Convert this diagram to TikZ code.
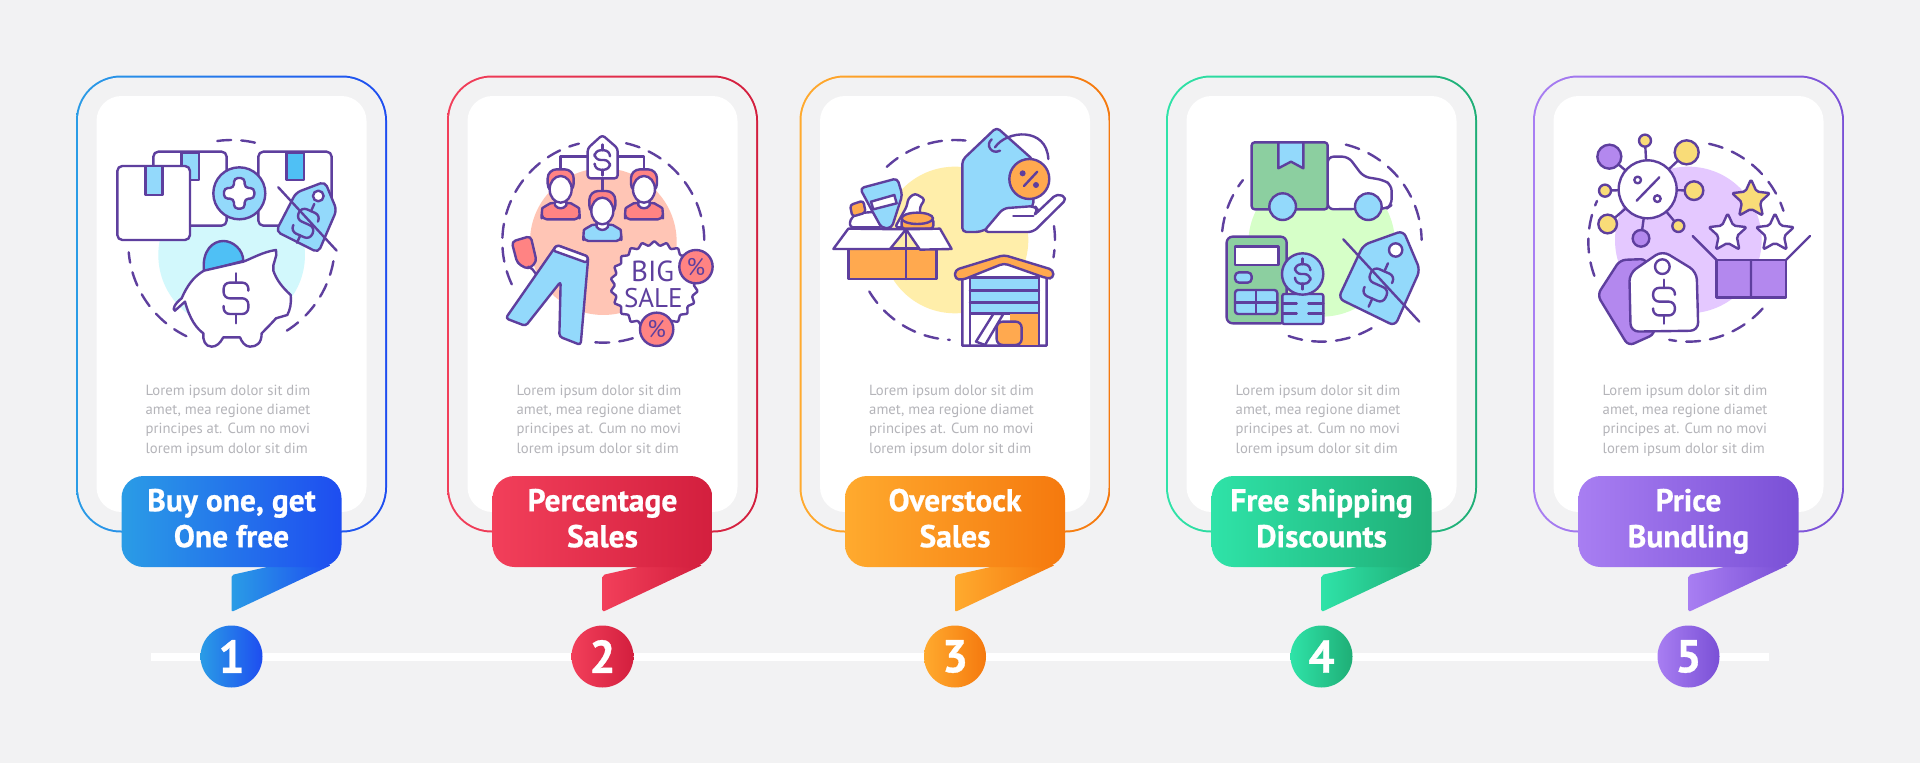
\documentclass[tikz,border=0pt]{standalone}
\usepackage{fontspec}
\setmainfont{PT Sans}
\newfontfamily\titlefont{PT Sans}[BoldFeatures={FakeBold=0.7}]
\usetikzlibrary{shapes.geometric}
\definecolor{pagegrey}{HTML}{F2F2F3}
\definecolor{inkpurple}{HTML}{5E3F9E}
\definecolor{bodygrey}{HTML}{B4B4B9}
\definecolor{blueL}{HTML}{2A9CE6}\definecolor{blueR}{HTML}{1E4DF0}
\definecolor{redL}{HTML}{F23F5A}\definecolor{redR}{HTML}{D31F3E}
\definecolor{orangeL}{HTML}{FFAA2E}\definecolor{orangeR}{HTML}{F5790E}
\definecolor{greenL}{HTML}{2FE3A8}\definecolor{greenR}{HTML}{1FAE76}
\definecolor{violetL}{HTML}{A87EF2}\definecolor{violetR}{HTML}{7A50D6}
\definecolor{skyfill}{HTML}{93D9FB}
\definecolor{skydeep}{HTML}{4FC0F5}
\definecolor{pinkfill}{HTML}{FF8383}
\definecolor{amberfill}{HTML}{FFA94F}
\definecolor{mintfill}{HTML}{8CCFA0}
\definecolor{lilacfill}{HTML}{B388EE}
\definecolor{yellowfill}{HTML}{F9DC78}
\definecolor{blobcyan}{HTML}{D2F8FC}
\definecolor{blobsalmon}{HTML}{FFC5B5}
\definecolor{blobyellow}{HTML}{FFEEAA}
\definecolor{blobgreen}{HTML}{D6FFC8}
\definecolor{bloblilac}{HTML}{E4C8FF}
\tikzset{ink/.style = {draw=inkpurple, line width=2.4pt, line join=round, line cap=round},
         dashring/.style = {ink, dash pattern=on 14pt off 10pt},
         titletext/.style = {text=white, align=center, inner sep=0pt,
                             font=\titlefont\fontsize{31.5}{36}\selectfont\bfseries},
         bodytext/.style = {text=bodygrey, align=left, inner sep=0pt,
                            font=\fontsize{14.7}{19.3}\selectfont},
         numtext/.style = {text=white, inner sep=0pt, font=\titlefont\fontsize{46}{46}\selectfont\bfseries},
         icontext/.style = {text=inkpurple, inner sep=0pt},
         pics/dollar/.style = {code={
           \draw [ink, rounded corners=6pt] (37, -23) -- (37, -47) -- (-37, -47) -- (-37, 0)
             -- (37, 0) -- (37, 47) -- (-37, 47) -- (-37, 23);
           \draw [ink] (0, -75) -- (0, -47) (0, 47) -- (0, 75);}},
         pics/person/.style 2 args = {code={
           \draw [ink, fill=#1, rounded corners=9pt] (-39, -80) -- (-39, -150) -- (39, -150) -- (39, -80) -- cycle;
           \draw [ink, fill=#2, rounded corners=5pt] (-57, 0) -- (-57, -18) .. controls (-55, -35) and (-30, -48) .. (-17, -50)
             -- (17, -50) .. controls (30, -48) and (55, -35) .. (57, -18) -- (57, 0) -- cycle;
           \draw [ink, fill=white] (-17, -60) -- (-17, -42) .. controls (-8, -30) and (8, -30) .. (17, -42) -- (17, -60);
           \draw [ink, fill=white] (0, -90) ellipse [x radius=33, y radius=40];}}}
\newcommand{\dashring}[5]{\draw [dashring] (#1, #2) ++(#4:#3) arc [start angle=#4, end angle=#5, radius=#3];}
\begin{document}
\begin{tikzpicture}[x=1pt, y=-1pt]
  \fill [pagegrey] (0, 0) rectangle (1920, 763);
  \useasboundingbox (0, 0) rectangle (1920, 763);
  % cards
  \foreach \cx/\lcol/\rcol in {231.5/blueL/blueR, 602.5/redL/redR, 955/orangeL/orangeR,
                               1321.5/greenL/greenR, 1688.5/violetL/violetR} {
    \path [left color=\lcol, right color=\rcol, rounded corners=45pt] (\cx-155.5, 75.5) rectangle (\cx+155.5, 532.5);
    \fill [pagegrey, rounded corners=43pt] (\cx-153.5, 77.5) rectangle (\cx+153.5, 530.5);
    \fill [white, rounded corners=25pt] (\cx-135, 96) rectangle (\cx+135, 512);
  }
  % timeline
  \coordinate (lineStart) at (151, 656.5);
  \coordinate (lineEnd) at (1769, 656.5);
  \draw [white, line width=8pt] (lineStart) -- (lineEnd);
  % labels, tails and numbers
  \foreach \i/\cx/\lcol/\rcol/\ttlA/\ttlB in {1/231.5/blueL/blueR/{Buy one, get}/{One free},
                                              2/602.5/redL/redR/{Percentage}/{Sales},
                                              3/955/orangeL/orangeR/{Overstock}/{Sales},
                                              4/1321.5/greenL/greenR/{Free shipping}/{Discounts},
                                              5/1688.5/violetL/violetR/{Price}/{Bundling}} {
    \node [bodytext, anchor=north west] (body\i) at (\cx-86, 384.5)
      {Lorem ipsum dolor sit dim\\amet, mea regione diamet\\principes at. Cum no movi\\lorem ipsum dolor sit dim};
    \path [left color=\lcol, right color=\rcol, rounded corners=2pt]
      (\cx+40, 566) -- (\cx, 575) -- (\cx, 612) -- (\cx+100, 565) -- cycle;
    \path [left color=\lcol, right color=\rcol, rounded corners=22pt] (\cx-110, 476) rectangle (\cx+110, 567);
    \node [titletext] (title\i) at (\cx, 522) {\strut\ttlA\\\strut\ttlB};
    \node [circle, minimum size=62pt, inner sep=0pt, left color=\lcol, right color=\rcol] (disc\i) at (\cx, 656.5) {};
    \node [numtext] (num\i) at (disc\i) {\i};
  }
  % icon 1
  \begin{scope}[shift={(60, 60)}, x=0.3333pt, y=-0.3333pt]
    \fill [blobcyan] (515, 585) circle (220);
    \dashring{515}{550}{310}{-98}{-76}
    \dashring{515}{550}{310}{116}{175}
    \dashring{515}{550}{310}{10}{59}
    \draw [ink, fill=white, rounded corners=5pt] (280, 275) rectangle (500, 497);
    \draw [ink, fill=skyfill] (365, 278) rectangle (417, 360);
    \draw [ink, fill=white, rounded corners=5pt] (595, 275) rectangle (815, 497);
    \draw [ink, fill=skydeep] (680, 278) rectangle (732, 360);
    \draw [ink, fill=white, rounded corners=5pt] (172, 318) rectangle (390, 540);
    \draw [ink, fill=skyfill] (257, 318) rectangle (307, 405);
    \draw [ink, fill=skyfill] (538, 400) circle (78);
    \draw [ink, fill=white, rounded corners=4pt] (522, 354) -- (554, 354) -- (554, 384) -- (583, 384) -- (583, 416) -- (554, 416)
      -- (554, 446) -- (522, 446) -- (522, 416) -- (492, 416) -- (492, 384) -- (522, 384) -- cycle;
    \draw [ink, fill=skyfill, rounded corners=5pt] (648, 514) -- (708, 398) -- (795, 365) -- (830, 450) -- (775, 578) -- cycle;
    \draw [ink, fill=white] (775, 408) circle (16);
    \pic [rotate=-24, scale=.85] at (737, 490) {dollar};
    \draw [ink] (655, 382) -- (830, 572);
    \draw [ink, fill=skydeep] (432, 634) .. controls (425, 570) and (460, 543) .. (490, 543)
      .. controls (520, 543) and (550, 570) .. (550, 603) -- cycle;
    \draw [ink, fill=white] (432, 632) -- (550, 605) .. controls (570, 598) and (610, 575) .. (648, 570)
      .. controls (655, 590) and (635, 610) .. (640, 632) .. controls (650, 660) and (665, 680) .. (692, 705)
      .. controls (695, 730) and (690, 750) .. (682, 765) -- (648, 775) .. controls (635, 790) and (615, 810) .. (605, 820)
      .. controls (605, 850) and (590, 860) .. (570, 860) .. controls (555, 860) and (545, 845) .. (540, 832) -- (490, 832)
      .. controls (480, 850) and (470, 860) .. (455, 860) .. controls (435, 860) and (428, 840) .. (430, 820)
      .. controls (410, 805) and (390, 780) .. (375, 725) -- (345, 752) .. controls (335, 750) and (345, 730) .. (365, 715)
      .. controls (380, 680) and (400, 650) .. (432, 632) -- cycle;
    \pic at (528, 715) {dollar};
  \end{scope}
  % icon 2
  \begin{scope}[shift={(440, 110)}, x=0.3333pt, y=-0.3333pt]
    \fill [blobsalmon] (490, 395) circle (220);
    \dashring{490}{395}{303}{155}{256}
    \dashring{490}{395}{303}{-77}{-1}
    \dashring{490}{395}{303}{73}{95}
    \draw [ink] (443, 140) -- (362, 140) -- (362, 185) (533, 140) -- (612, 140) -- (612, 185) (487, 205) -- (487, 250);
    \draw [ink, fill=white, rounded corners=3pt] (443, 205) -- (443, 115) -- (487, 75) -- (533, 115) -- (533, 205) -- cycle;
    \pic [scale=.62] at (487, 150) {dollar};
    \pic at (362, 328) {person={pinkfill}{pinkfill}};
    \pic at (612, 328) {person={pinkfill}{pinkfill}};
    \pic at (487, 393) {person={pinkfill}{skyfill}};
    \draw [ink, fill=pinkfill, rounded corners=4pt] (215, 395) -- (272, 378) -- (290, 455) -- (265, 478) -- (232, 460) -- cycle;
    \draw [ink] (265, 470) .. controls (285, 480) and (295, 495) .. (287, 525);
    \draw [ink, fill=skyfill, rounded corners=3pt] (350, 405) -- (197, 625) -- (257, 648) -- (362, 515) -- (358, 680)
      -- (422, 705) -- (445, 440) -- cycle;
    \draw [ink, fill=white, rounded corners=2pt] (350, 405) -- (445, 440) -- (440, 458) -- (340, 422) -- cycle;
    \node [star, star points=22, star point ratio=1.12, minimum size=88pt, inner sep=0pt, ink, fill=white, rounded corners=1pt] (burst) at (643, 525) {};
    \node [icontext, font=\fontsize{29}{29}\selectfont] (bigword) at (638, 484) {BIG};
    \node [icontext, font=\fontsize{27}{27}\selectfont] (saleword) at (640, 563) {SALE};
    \draw [ink, fill=pinkfill] (768, 470) circle (50);
    \node [icontext, font=\fontsize{24}{24}\selectfont] (pctTop) at (768, 470) {\%};
    \draw [ink, fill=pinkfill] (650, 658) circle (50);
    \node [icontext, font=\fontsize{24}{24}\selectfont] (pctLow) at (650, 658) {\%};
  \end{scope}
  % icon 3
  \begin{scope}[shift={(800, 110)}, x=0.3333pt, y=-0.3333pt]
    \fill [blobyellow] (465, 390) circle (220);
    \dashring{465}{390}{300}{227}{276}
    \dashring{465}{390}{300}{-8}{10}
    \dashring{465}{390}{300}{149}{93}
    \draw [ink, fill=skyfill, rounded corners=4pt] (487, 366) -- (487, 150) -- (590, 52) -- (700, 150) -- (700, 290) -- (540, 366) -- cycle;
    \draw [ink] (600, 122) .. controls (575, 135) and (555, 105) .. (575, 88);
    \draw [ink] (585, 112) .. controls (620, 60) and (740, 50) .. (745, 147);
    \draw [ink, fill=amberfill] (688, 207) circle (60);
    \draw [ink] (672, 228) -- (712, 185);
    \fill [inkpurple] (668, 190) circle (9) (708, 225) circle (9);
    \draw [ink, fill=white, rounded corners=5pt] (550, 366) -- (610, 295) -- (705, 288) -- (715, 302) -- (700, 318) -- (772, 250)
      -- (802, 265) -- (700, 366) -- cycle;
    \draw [ink] (640, 318) -- (700, 318);
    \draw [ink, fill=white, rounded corners=3pt] (150, 352) -- (150, 330) -- (170, 310) -- (230, 305) -- (245, 352) -- cycle;
    \draw [ink, fill=amberfill, rounded corners=3pt] (150, 285) -- (190, 272) -- (197, 308) -- (157, 320) -- cycle;
    \draw [ink, fill=skyfill, rounded corners=4pt] (180, 235) -- (292, 205) -- (307, 255) -- (275, 354) -- (245, 354) -- (215, 300) -- cycle;
    \draw [ink, fill=white] (213, 275) -- (283, 255) -- (290, 280) -- (220, 298) -- cycle;
    \draw [ink, fill=white, rounded corners=3pt] (285, 352) -- (320, 290) -- (325, 265) -- (345, 250) -- (375, 268) -- (360, 290) -- (360, 352) -- cycle;
    \draw [ink, fill=amberfill, rounded corners=3pt] (305, 325) rectangle (400, 356);
    \draw [ink, fill=amberfill] (352, 325) ellipse [x radius=47, y radius=17];
    \draw [ink, fill=amberfill] (145, 415) rectangle (410, 507);
    \draw [ink] (318, 358) -- (318, 507);
    \draw [ink, fill=white] (100, 417) -- (145, 356) -- (318, 358) -- (270, 417) -- cycle;
    \draw [ink, fill=white] (318, 358) -- (420, 356) -- (455, 417) -- (360, 419) -- cycle;
    \draw [ink, fill=white] (487, 500) -- (487, 707) -- (740, 707) -- (740, 490) -- (612, 450) -- cycle;
    \draw [ink, fill=amberfill, rounded corners=4pt] (465, 480) -- (612, 435) -- (760, 480) -- (760, 505) -- (740, 505) -- (612, 460) -- (487, 510) -- (465, 507) -- cycle;
    \draw [ink, fill=skyfill] (510, 502) rectangle (717, 610);
    \draw [ink] (510, 542) -- (717, 542) (510, 578) -- (717, 578);
    \fill [amberfill] (630, 612) rectangle (715, 705);
    \draw [ink] (510, 610) -- (510, 705) (717, 610) -- (717, 705);
    \draw [ink, fill=white] (528, 695) -- (580, 612) -- (610, 612) -- (555, 705) -- cycle;
    \draw [ink, fill=amberfill, rounded corners=6pt] (590, 635) rectangle (665, 705);
  \end{scope}
  % icon 4
  \begin{scope}[shift={(1170, 110)}, x=0.3333pt, y=-0.3333pt]
    \fill [blobgreen] (455, 400) circle (220);
    \dashring{455}{395}{300}{186}{218}
    \dashring{455}{395}{300}{-76}{-1}
    \dashring{455}{395}{300}{60}{111}
    \draw [ink, fill=white, rounded corners=6pt] (473, 140) -- (535, 140) -- (580, 200) -- (640, 210) -- (665, 225) -- (665, 285) -- (650, 296) -- (473, 298) -- cycle;
    \draw [ink, fill=mintfill, rounded corners=3pt] (245, 97) rectangle (473, 298);
    \draw [ink, fill=skyfill] (325, 97) -- (400, 97) -- (400, 175) -- (363, 155) -- (325, 175) -- cycle;
    \draw [ink, fill=skyfill] (338, 290) circle (40);
    \draw [ink, fill=skyfill] (595, 290) circle (40);
    \draw [ink, fill=mintfill, rounded corners=6pt] (170, 380) rectangle (350, 640);
    \draw [ink, fill=white] (195, 410) rectangle (325, 465);
    \draw [ink, fill=skyfill, rounded corners=4pt] (195, 487) rectangle (245, 518);
    \draw [ink, fill=skyfill, rounded corners=3pt] (195, 540) rectangle (322, 612);
    \draw [ink] (258, 540) -- (258, 612) (195, 577) -- (322, 577);
    \draw [ink, fill=skyfill, rounded corners=2pt] (337, 552) rectangle (460, 642);
    \draw [ink] (337, 580) -- (380, 580) (415, 580) -- (460, 580) (337, 610) -- (380, 610) (415, 610) -- (460, 610);
    \draw [ink, fill=skyfill] (398, 492) circle (62);
    \pic [scale=.62] at (398, 492) {dollar};
    \draw [ink, fill=skyfill, rounded corners=6pt] (505, 565) -- (580, 405) -- (700, 362) -- (750, 480) -- (675, 648) -- cycle;
    \draw [ink, fill=white] (677, 420) circle (20);
    \pic [rotate=-24, scale=.95] at (625, 525) {dollar};
    \draw [ink] (520, 388) -- (748, 635);
  \end{scope}
  % icon 5
  \begin{scope}[shift={(1540, 110)}, x=0.3333pt, y=-0.3333pt]
    \fill [bloblilac] (445, 390) circle (220);
    \dashring{445}{395}{300}{-78}{-18}
    \dashring{445}{395}{300}{160}{204}
    \dashring{445}{395}{300}{42}{101}
    \draw [ink] (323, 238) -- (208, 140) (323, 238) -- (315, 92) (323, 238) -- (440, 127) (323, 238) -- (195, 242)
      (323, 238) -- (462, 242) (323, 238) -- (203, 342) (323, 238) -- (415, 348) (323, 238) -- (303, 385);
    \draw [ink, fill=white] (323, 238) circle (87);
    \draw [ink] (290, 272) -- (358, 202);
    \draw [ink] (293, 210) circle (10) (352, 266) circle (10);
    \draw [ink, fill=lilacfill] (208, 140) circle (36);
    \draw [ink, fill=yellowfill] (315, 92) circle (18);
    \draw [ink, fill=yellowfill] (440, 127) circle (36);
    \draw [ink, fill=yellowfill] (195, 242) circle (18);
    \draw [ink, fill=yellowfill] (462, 242) circle (28);
    \draw [ink, fill=yellowfill] (203, 342) circle (28);
    \draw [ink, fill=yellowfill] (415, 348) circle (18);
    \draw [ink, fill=lilacfill] (303, 385) circle (25);
    \node [star, star point ratio=2.1, minimum size=40pt, inner sep=0pt, ink, fill=yellowfill, rounded corners=2pt] (starTop) at (633, 268) {};
    \node [star, star point ratio=2.1, minimum size=40pt, inner sep=0pt, ink, fill=white, rounded corners=2pt] (starLeft) at (563, 370) {};
    \node [star, star point ratio=2.1, minimum size=40pt, inner sep=0pt, ink, fill=white, rounded corners=2pt] (starRight) at (705, 370) {};
    \draw [ink, fill=lilacfill] (530, 450) rectangle (738, 562);
    \draw [ink] (633, 450) -- (633, 562) (530, 450) -- (458, 378) (738, 450) -- (810, 378);
    \draw [ink, fill=lilacfill, rounded corners=6pt] (172, 555) -- (240, 450) -- (320, 447) -- (345, 672) -- (265, 708) -- cycle;
    \draw [ink, fill=white, rounded corners=8pt] (268, 490) -- (367, 422) -- (470, 485) -- (475, 662) -- (272, 665) -- cycle;
    \draw [ink] (367, 470) circle (22);
    \pic [scale=.88] at (372, 575) {dollar};
  \end{scope}
\end{tikzpicture}
\end{document}
